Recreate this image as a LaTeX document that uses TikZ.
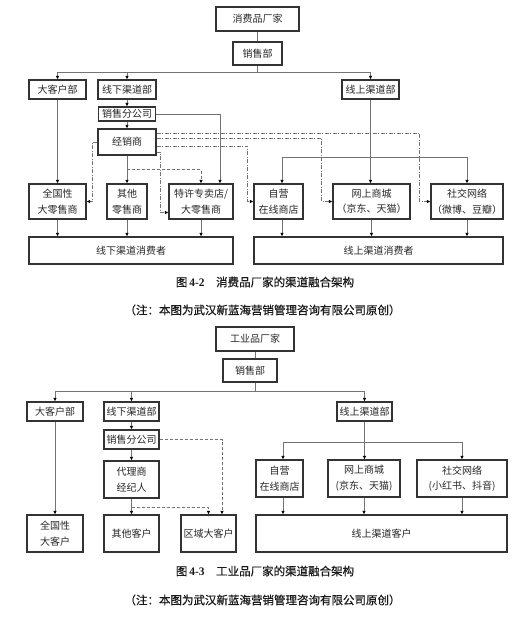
\documentclass[tikz,border=0pt]{standalone}
\usepackage{fontspec}
\setmainfont{Noto Sans CJK SC}
\newfontfamily\capfont[FakeBold=0.6]{Noto Sans CJK SC}
\newfontfamily\numfont{Liberation Serif}
\usetikzlibrary{arrows.meta}

\begin{document}
\begin{tikzpicture}[x=1pt,y=-1pt]
  \tikzset{box/.style={draw=black!80,line width=1.1pt,inner sep=0pt,align=center,text=black!85,
      font=\fontsize{10}{15.5}\selectfont}}
  \tikzset{plain/.style={draw=black!55,line width=.8pt}}
  \tikzset{link/.style={plain,-{Latex[black,length=3.5pt,width=3.5pt]}}}
  \tikzset{dlink/.style={link,dash pattern=on 3pt off 2pt}}
  \tikzset{ddlink/.style={link,dash pattern=on 4pt off 1.5pt on 1pt off 1.5pt}}
  \tikzset{figcap/.style={font=\capfont\fontsize{11.5}{14}\selectfont,text=black!90}}
  \useasboundingbox (0,0) rectangle (523,617);

  \node[box,minimum width=83,minimum height=24] (cj) at (257.5,19) {消费品厂家};
  \node[box,minimum width=49,minimum height=23] (xsb) at (257.5,53.5) {销售部};
  \node[box,minimum width=57,minimum height=19] (dkh) at (57.5,89.5) {大客户部};
  \node[box,minimum width=58,minimum height=19] (xxqd) at (127,89.5) {线下渠道部};
  \node[box,minimum width=57,minimum height=19] (xsqd) at (370.5,89.5) {线上渠道部};
  \node[box,minimum width=57,minimum height=14] (xsgs) at (127,114) {销售分公司};
  \node[box,minimum width=58,minimum height=26] (jxs) at (127,142) {经销商};
  \node[box,minimum width=57,minimum height=35] (qgx) at (57.5,201.5) {全国性\\大零售商};
  \node[box,minimum width=40,minimum height=35] (qt) at (127,201.5) {其他\\零售商};
  \node[box,minimum width=64,minimum height=35] (tx) at (201,201.5) {特许专卖店/\\大零售商};
  \node[box,minimum width=204,minimum height=27] (xxxf) at (131,250.5) {线下渠道消费者};
  \node[box,minimum width=49,minimum height=35] (zy) at (278.5,201.5) {自营\\在线商店};
  \node[box,minimum width=77,minimum height=35] (wssc) at (371.5,201.5) {网上商城\\（京东、天猫）};
  \node[box,minimum width=72,minimum height=35] (sj) at (467,201.5) {社交网络\\（微博、豆瓣）};
  \node[box,minimum width=249,minimum height=27] (xsxf) at (378.5,250.5) {线上渠道消费者};

  \coordinate (t1) at (257.5,72);
  \coordinate (t2) at (370.5,157);
  \draw[plain] (cj) -- (xsb);
  \draw[plain] (xsb) -- (t1);
  \draw[link] (t1) -| (dkh.north);
  \draw[link] (t1) -| (xxqd.north);
  \draw[link] (t1) -| (xsqd.north);
  \draw[link] (xxqd) -- (xsgs);
  \draw[link] (xsgs) -- (jxs);
  \draw[link] (jxs) -- (qt);
  \draw[link] (dkh) -- (qgx);
  \draw[link] (xsgs.east) -| ([xshift=19pt]tx.north);
  \draw[dlink] ([yshift=-14pt]jxs.south) -| (tx.north);
  \draw[ddlink] (jxs.west) -| ([xshift=6pt]qgx.east) -- (qgx.east);
  \draw[ddlink] ([yshift=9pt]jxs.east) -| ([xshift=-11pt]sj.west) -- (sj.west);
  \draw[ddlink] ([yshift=4pt]jxs.east) -| ([xshift=-11pt]wssc.west) -- (wssc.west);
  \draw[ddlink] ([yshift=-4pt]jxs.east) -| ([xshift=-6pt]zy.west) -- (zy.west);
  \draw[ddlink] ([yshift=-10pt]jxs.east) -| ([xshift=-8pt,yshift=-11pt]tx.west) -- ([yshift=-11pt]tx.west);
  \draw[link] (xsqd.south) -- (xsqd.south |- wssc.north);
  \draw[link] (t2) -| ([xshift=3.5pt]zy.north);
  \draw[link] (t2) -| (sj.north);
  \draw[link] (qgx.south) -- (qgx.south |- xxxf.north);
  \draw[link] (qt.south) -- (qt.south |- xxxf.north);
  \draw[link] (tx.south) -- (tx.south |- xxxf.north);
  \draw[link] ([xshift=3.5pt]zy.south) -- ([xshift=3.5pt]zy.south |- xsxf.north);
  \draw[link] (wssc.south) -- (wssc.south |- xsxf.north);
  \draw[link] (sj.south) -- (sj.south |- xsxf.north);

  \node[figcap] (cap1) at (265,282) {图\,{\numfont\bfseries 4-2}\quad 消费品厂家的渠道融合架构};
  \node[figcap] (note1) at (262.5,310) {（注：本图为武汉新蓝海营销管理咨询有限公司原创）};

  \node[box,minimum width=78,minimum height=24] (gy) at (255,339) {工业品厂家};
  \node[box,minimum width=54,minimum height=23] (xsb2) at (250,370.5) {销售部};
  \node[box,minimum width=56,minimum height=19] (dkh2) at (55,411.5) {大客户部};
  \node[box,minimum width=55,minimum height=19] (xxqd2) at (131.5,411.5) {线下渠道部};
  \node[box,minimum width=55,minimum height=19] (xsqd2) at (364.5,411.5) {线上渠道部};
  \node[box,minimum width=55,minimum height=19] (xsgs2) at (131.5,439.5) {销售分公司};
  \node[box,minimum width=55,minimum height=37] (dl) at (131.5,479.5) {代理商\\经纪人};
  \node[box,minimum width=56,minimum height=37] (qgx2) at (55,533.5) {全国性\\大客户};
  \node[box,minimum width=55,minimum height=37] (qt2) at (131.5,533.5) {其他客户};
  \node[box,minimum width=55,minimum height=37] (qy) at (208.5,533.5) {区域大客户};
  \node[box,minimum width=47,minimum height=37] (zy2) at (279.5,478.5) {自营\\在线商店};
  \node[box,minimum width=72,minimum height=37] (wssc2) at (364,478.5) {网上商城\\(京东、天猫)};
  \node[box,minimum width=90,minimum height=37] (sj2) at (462,478.5) {社交网络\\(小红书、抖音)};
  \node[box,minimum width=251,minimum height=37] (xskh) at (381.5,533.5) {线上渠道客户};

  \coordinate (b1) at (255,391);
  \coordinate (b2) at (364.5,442);
  \draw[plain] (gy.south) -- (gy.south |- xsb2.north);
  \draw[plain] (gy.south |- xsb2.south) -- (b1);
  \draw[link] (b1) -| (dkh2.north);
  \draw[link] (b1) -| (xxqd2.north);
  \draw[link] (b1) -| (xsqd2.north);
  \draw[link] (xxqd2) -- (xsgs2);
  \draw[link] (xsgs2) -- (dl);
  \draw[link] (dl) -- (qt2);
  \draw[link] (dkh2) -- (qgx2);
  \draw[dlink] ([yshift=-9pt]dl.south) -| (qy.north);
  \draw[dlink] (xsgs2.east) -| ([xshift=13.5pt]qy.north);
  \draw[link] (xsqd2.south) -- (xsqd2.south |- wssc2.north);
  \draw[link] (b2) -| ([xshift=3.5pt]zy2.north);
  \draw[link] (b2) -| (sj2.north);
  \draw[link] ([xshift=3.5pt]zy2.south) -- ([xshift=3.5pt]zy2.south |- xskh.north);
  \draw[link] (wssc2.south) -- (wssc2.south |- xskh.north);
  \draw[link] (sj2.south) -- (sj2.south |- xskh.north);

  \node[figcap] (cap2) at (265,571) {图\,{\numfont\bfseries 4-3}\quad 工业品厂家的渠道融合架构};
  \node[figcap] (note2) at (262.5,600) {（注：本图为武汉新蓝海营销管理咨询有限公司原创）};
\end{tikzpicture}
\end{document}
